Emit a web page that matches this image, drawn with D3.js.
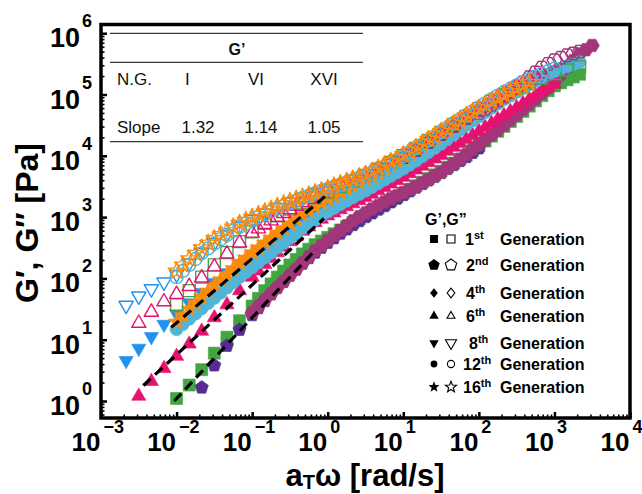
<!DOCTYPE html>
<html>
<head>
<meta charset="utf-8">
<script src="https://cdn.jsdelivr.net/npm/d3@7"></script>
<style>
  html, body { margin: 0; padding: 0; background: #fff; }
  svg { display: block; }
</style>
</head>
<body>
<svg id="chart" width="642" height="494"></svg>
<script>
// Angular frequency grid of the master curve (rad/s), 6 points per decade
const omega = [0.001, 0.00147, 0.00215, 0.00316, 0.00464, 0.00681,
  0.01, 0.0147, 0.0215, 0.0316, 0.0464, 0.0681,
  0.1, 0.147, 0.215, 0.316, 0.464, 0.681,
  1, 1.47, 2.15, 3.16, 4.64, 6.81,
  10, 14.7, 21.5, 31.6, 46.4, 68.1,
  100, 147, 215, 316, 464, 681,
  1000, 1470, 2150, 3160, 4640];
// Overlapping sweeps from neighbouring temperatures, shifted half a step
const omegaShifted = [0.00121, 0.00178, 0.00261, 0.00383, 0.00562, 0.00825,
  0.0121, 0.0178, 0.0261, 0.0383, 0.0562, 0.0825,
  0.121, 0.178, 0.261, 0.383, 0.562, 0.825,
  1.21, 1.78, 2.61, 3.83, 5.62, 8.25,
  12.1, 17.8, 26.1, 38.3, 56.2, 82.5,
  121, 178, 261, 383, 562, 825,
  1210, 1780, 2610];

// Storage modulus G' (Pa) per generation, first point at omega[storageFrom]
const storage1st = [1.10, 1.82, 3.24, 6.03, 11.0, 20.4, 35.5, 63.1, 105, 166, 251, 355, 468, 617, 813, 1070, 1410, 1860, 2450, 3240, 4270, 5620, 7590, 10200, 14500, 20900, 30200, 43700, 64600, 95500, 138000, 174000, 214000];
const storage2nd = [1.66, 3.80, 7.94, 14.5, 25.1, 42.7, 70.8, 112, 174, 263, 380, 537, 741, 1000, 1320, 1740, 2290, 3020, 3980, 5250, 7080, 9550, 13200];
const storage4th = [27.5, 44.7, 70.8, 112, 178, 282, 417, 603, 871, 1170, 1550, 2000, 2510, 3160, 4070, 5370, 7410, 10500, 15100, 21900, 31600, 46800, 69200, 105000, 158000, 282000, 457000, 631000];
const storage6th = [1.20, 2.09, 3.39, 5.37, 8.51, 13.8, 22.9, 37.2, 63.1, 105, 170, 263, 398, 589, 813, 1050, 1320, 1660, 2090, 2690, 3470, 4470, 5890, 7760, 10200, 13800, 18600, 25100, 33900, 45700, 61700, 83200, 112000, 148000];
const storage8th = [4.57, 7.24, 11.2, 17.8, 26.3, 39.8, 58.9, 85.1, 123, 174, 245, 347, 479, 661, 912, 1230, 1620, 2140, 2820, 3720, 4900, 6460, 8510, 11200, 15100, 20400];
const storage12th = [14.8, 21.9, 32.4, 47.9, 70.8, 105, 151, 219, 316, 457, 661, 912, 1230, 1620, 2090, 2690, 3550, 4680, 6170, 8320, 11500, 15800, 22400, 31600, 43700, 60300, 83200, 110000, 145000, 191000, 240000, 288000, 339000];
const storage16th = [19.5, 31.6, 50.1, 77.6, 117, 178, 263, 380, 550, 776, 1100, 1480, 1950, 2510, 3240, 4170, 5250, 7080, 9330, 12600, 16600, 22400, 30200, 40700, 55000, 72400, 93300, 120000, 151000];

// G' (Pa) of the shifted sweeps, first point at omegaShifted[storageShiftedFrom]
const storage1stShifted = [47.3, 81.3, 132, 204, 299, 407, 537, 708, 933, 1230, 1620, 2140, 2820, 3720, 4900, 6530, 8810, 12200, 17400, 25100, 36300, 53100, 78500, 115000, 155000, 193000];
const storage2ndShifted = [32.7, 55.0, 89.1, 140, 214, 316, 452, 631, 861, 1150, 1510, 2000, 2630, 3470, 4570, 6100, 8220, 11200];
const storage4thShifted = [35.1, 56.2, 89.1, 141, 224, 343, 501, 724, 1010, 1350, 1760, 2240, 2820, 3590, 4680, 6310, 8810, 12600, 18200, 26300, 38500, 56900, 85100, 129000, 211000, 359000, 537000];
const storage6thShifted = [133, 211, 324, 484, 692, 923, 1170, 1480, 1860, 2370, 3050, 3940, 5130, 6760, 8910, 11900, 16000, 21600, 29200, 39400, 53100, 71600, 96600, 129000];
const storage8thShifted = [292, 407, 562, 776, 1060, 1410, 1860, 2450, 3240, 4270, 5620, 7410, 9770, 13000, 17600];
const storage12thShifted = [18.0, 26.6, 39.4, 58.2, 86.1, 126, 182, 263, 380, 550, 776, 1060, 1410, 1840, 2370, 3090, 4070, 5370, 7160, 9770, 13500, 18800, 26600, 37200, 51300, 70800, 95500, 126000, 166000, 214000, 263000, 313000];
const storage16thShifted = [24.8, 39.8, 62.4, 95.5, 145, 216, 316, 457, 653, 923, 1270, 1700, 2210, 2850, 3670, 4680, 6100, 8130, 10800, 14500, 19300, 26000, 35100, 47300, 63100, 82200, 106000, 135000];

// Loss modulus G'' (Pa) per generation, first point at omega[lossFrom]
const loss1st = [37.2, 63.1, 105, 166, 263, 398, 575, 794, 1050, 1350, 1700, 2090, 2570, 3160, 3890, 4790, 6030, 7760, 10000, 13200, 17800, 24000, 32400, 43700, 58900, 77600, 100000, 126000, 155000, 186000, 219000, 251000, 282000];
const loss2nd = [9330, 12300, 16600, 22400, 30200, 40700, 55000];
const loss4th = [50100, 67600, 93300, 132000, 191000, 275000, 363000, 437000, 501000];
const loss6th = [18.6, 28.2, 41.7, 55.0, 74.1, 102, 155, 251, 380, 550, 759, 1000, 1320, 1740, 2240, 2820, 3470, 4170, 5010, 6170, 7940, 10200, 13500, 18200, 24500, 33100, 44700, 60300, 79400, 105000, 135000, 174000, 219000];
const loss8th = [36.3, 51.3, 67.6, 87.1, 117, 178, 263, 380, 525, 708, 912, 1150, 1410, 1740, 2090, 2510, 2950, 3470, 4070, 4900, 6030, 7590, 9770];
const loss12th = [105, 166, 257, 372, 513, 692, 891, 1120, 1380, 1700, 2040, 2450, 2880, 3390, 3980, 4790, 5890, 7590, 9770, 13200, 17800, 24500, 33900, 45700, 61700, 83200, 110000, 141000, 178000, 219000, 263000];
const loss16th = [132, 209, 316, 447, 603, 794, 1000, 1230, 1510, 1820, 2140, 2510, 2950, 3550, 4170, 5010, 6310, 8130, 10500, 13800, 18600, 25100, 33900, 45700, 60300, 79400, 100000, 126000, 158000];

// G'' (Pa) of the shifted sweeps, first point at omegaShifted[lossShiftedFrom]
const loss4thShifted = [58200, 79400, 111000, 158000, 229000, 316000, 398000, 468000];
const loss6thShifted = [646, 871, 1150, 1510, 1970, 2510, 3130, 3800, 4570, 5560, 7000, 9020, 11700, 15700, 21100, 28500, 38500, 51900, 69200, 91200, 119000, 153000, 195000];
const loss12thShifted = [132, 207, 309, 437, 596, 785, 1000, 1240, 1530, 1860, 2240, 2660, 3130, 3670, 4370, 5310, 6680, 8610, 11400, 15300, 20900, 28800, 39400, 53100, 71600, 95500, 124000, 158000, 197000, 240000];
const loss16thShifted = [166, 257, 376, 519, 692, 891, 1110, 1360, 1660, 1970, 2320, 2720, 3240, 3850, 4570, 5620, 7160, 9230, 12000, 16000, 21600, 29200, 39400, 52500, 69200, 89100, 112000, 141000];

const generations = ["1st", "2nd", "4th", "6th", "8th", "12th", "16th"];
const storageFrom = [6, 8, 12, 3, 2, 6, 6];
const storageShiftedFrom = [12, 12, 12, 12, 12, 6, 6];
const lossFrom = [6, 24, 30, 3, 2, 6, 6];
const lossShiftedFrom = [0, 0, 30, 12, 0, 6, 6];

// Power-law fits of G' in the terminal zone
const fitGenerations = ["I", "VI", "XVI"];
const fitSlopes = [1.32, 1.14, 1.05];
const fitOmegaStart = [0.00933, 0.00363, 0.00851];
const fitOmegaEnd = [0.708, 0.891, 0.933];
const fitGStart = [1.0, 1.79, 15.9];

// Axis ticks
const xTickExponents = [-3, -2, -1, 0, 1, 2, 3, 4];
const yTickExponents = [0, 1, 2, 3, 4, 5, 6];

// ---------------------------------------------------------------
const storageData = [storage1st, storage2nd, storage4th, storage6th, storage8th, storage12th, storage16th];
const storageShiftedData = [storage1stShifted, storage2ndShifted, storage4thShifted, storage6thShifted, storage8thShifted, storage12thShifted, storage16thShifted];
const lossData = [loss1st, loss2nd, loss4th, loss6th, loss8th, loss12th, loss16th];
const lossShiftedData = [[], [], loss4thShifted, loss6thShifted, [], loss12thShifted, loss16thShifted];

const colors = ["#42a542", "#552c90", "#a3367b", "#e5136f", "#1e92f2", "#50b5d9", "#fb8b0a"];
const plotShapes = ["square", "pentagon", "hexagon", "triUp", "triDown", "circle", "star"];
const legendShapes = ["square", "pentagon", "diamond", "triUp", "triDown", "circle", "star"];
const plotRadius = { square: 6, pentagon: 7, hexagon: 7.2, triUp: 8.2, triDown: 8.2, circle: 6.5, star: 8.8 };

const svg = d3.select("#chart");
const plot = { left: 101, right: 630, top: 24.5, bottom: 418 };
const FONT = "'Liberation Sans', Arial, Helvetica, sans-serif";

const x = d3.scaleLog().domain([1e-3, 1e4]).range([plot.left, plot.right]);
const y = d3.scaleLog().domain([0.528, 1.387e6]).range([plot.bottom, plot.top]);

function polygon(n, r, startDeg, sx = 1) {
  const pts = [];
  for (let i = 0; i < n; i++) {
    const a = (startDeg + i * 360 / n) * Math.PI / 180;
    pts.push([sx * r * Math.cos(a), r * Math.sin(a)]);
  }
  return "M" + pts.map(p => p[0].toFixed(2) + "," + p[1].toFixed(2)).join("L") + "Z";
}
function shapePath(shape, r) {
  switch (shape) {
    case "square": return `M${-r},${-r}H${r}V${r}H${-r}Z`;
    case "pentagon": return polygon(5, r, -90);
    case "hexagon": return polygon(6, r, 0);
    case "diamond": return polygon(4, r, -90, 0.8);
    case "triUp": return polygon(3, r, -90);
    case "triDown": return polygon(3, r, 90);
    case "circle": return `M${r},0A${r},${r} 0 1,1 ${-r},0A${r},${r} 0 1,1 ${r},0Z`;
    case "star": {
      const pts = [];
      for (let i = 0; i < 10; i++) {
        const a = -Math.PI / 2 + i * Math.PI / 5;
        const rr = i % 2 ? r * 0.42 : r;
        pts.push([rr * Math.cos(a), rr * Math.sin(a)]);
      }
      return "M" + pts.map(p => p[0].toFixed(2) + "," + p[1].toFixed(2)).join("L") + "Z";
    }
  }
}

// ---- data markers: filled G' first, then open G''
const marks = svg.append("g");
function drawSeries(values, from, shifted, shiftedFrom, shape, color, open) {
  const pts = values.map((g, i) => ({ w: omega[from + i], g }))
    .concat(shifted.map((g, i) => ({ w: omegaShifted[shiftedFrom + i], g })))
    .sort((a, b) => a.w - b.w);
  marks.append("g").selectAll("path").data(pts).join("path")
    .attr("transform", d => `translate(${x(d.w).toFixed(2)},${y(d.g).toFixed(2)})`)
    .attr("d", shapePath(shape, plotRadius[shape]))
    .attr("fill", open ? "none" : color)
    .attr("stroke", color)
    .attr("stroke-width", open ? 1.4 : 0.6)
    .attr("stroke-linejoin", "round");
}
storageData.forEach((vals, i) =>
  drawSeries(vals, storageFrom[i], storageShiftedData[i], storageShiftedFrom[i], plotShapes[i], colors[i], false));
lossData.forEach((vals, i) =>
  drawSeries(vals, lossFrom[i], lossShiftedData[i], lossShiftedFrom[i], plotShapes[i], colors[i], true));

// ---- power-law fit lines
fitSlopes.forEach((s, i) => {
  const w0 = fitOmegaStart[i], w1 = fitOmegaEnd[i], g0 = fitGStart[i];
  const g1 = g0 * Math.pow(w1 / w0, s);
  svg.append("line")
    .attr("x1", x(w0)).attr("y1", y(g0))
    .attr("x2", x(w1)).attr("y2", y(g1))
    .attr("stroke", "#000").attr("stroke-width", 3.2)
    .attr("stroke-dasharray", "10,6");
});

// ---- axes (ticks point inward)
const xMajor = xTickExponents.map(e => Math.pow(10, e));
const yMajor = yTickExponents.map(e => Math.pow(10, e));
const xMinor = [], yMinor = [];
for (let e = -3; e < 4; e++) for (let m = 2; m <= 9; m++) xMinor.push(m * Math.pow(10, e));
for (let e = -1; e < 7; e++) for (let m = 2; m <= 9; m++) {
  const v = m * Math.pow(10, e);
  if (v > y.domain()[0] && v < y.domain()[1]) yMinor.push(v);
}

function styleAxis(g, width) {
  g.select(".domain").remove();
  g.selectAll(".tick line").attr("stroke", "#000").attr("stroke-width", width);
  g.selectAll(".tick text").remove();
}
svg.append("g").attr("transform", `translate(0,${plot.bottom})`)
  .call(d3.axisBottom(x).tickValues(xMajor).tickSize(-6).tickFormat(""))
  .call(g => styleAxis(g, 2.5));
svg.append("g").attr("transform", `translate(0,${plot.bottom})`)
  .call(d3.axisBottom(x).tickValues(xMinor).tickSize(-3.5).tickFormat(""))
  .call(g => styleAxis(g, 1.6));
svg.append("g").attr("transform", `translate(${plot.left},0)`)
  .call(d3.axisLeft(y).tickValues(yMajor).tickSize(-6).tickFormat(""))
  .call(g => styleAxis(g, 2.5));
svg.append("g").attr("transform", `translate(${plot.left},0)`)
  .call(d3.axisLeft(y).tickValues(yMinor).tickSize(-3.5).tickFormat(""))
  .call(g => styleAxis(g, 1.6));

// frame
svg.append("rect")
  .attr("x", plot.left).attr("y", plot.top)
  .attr("width", plot.right - plot.left).attr("height", plot.bottom - plot.top)
  .attr("fill", "none").attr("stroke", "#000").attr("stroke-width", 3.5);

// tick labels: 10 with superscript exponent
const expText = e => (e < 0 ? "\u2212" + (-e) : String(e));
xTickExponents.forEach((e, i) => {
  const px = x(xMajor[i]);
  svg.append("text").attr("x", px - 0.5).attr("y", 451)
    .attr("text-anchor", "end").attr("font-family", FONT).attr("font-weight", "bold")
    .attr("font-size", 26).text("10");
  svg.append("text").attr("x", px + 2.5).attr("y", 433)
    .attr("font-family", FONT).attr("font-weight", "bold")
    .attr("font-size", 18).text(expText(e));
});
yTickExponents.forEach((e, i) => {
  const py = y(yMajor[i]);
  svg.append("text").attr("x", 80).attr("y", py + 14)
    .attr("text-anchor", "end").attr("font-family", FONT).attr("font-weight", "bold")
    .attr("font-size", 27).text("10");
  svg.append("text").attr("x", 82).attr("y", py - 6)
    .attr("font-family", FONT).attr("font-weight", "bold")
    .attr("font-size", 18).text(expText(e));
});

// axis titles
const xTitle = svg.append("text").attr("x", 365).attr("y", 485.5)
  .attr("text-anchor", "middle").attr("font-family", FONT).attr("font-weight", "bold")
  .attr("font-size", 31);
xTitle.append("tspan").text("a");
xTitle.append("tspan").attr("font-size", 20).attr("dy", 3.5).text("T");
xTitle.append("tspan").attr("dy", -3.5).text("\u03c9 [rad/s]");

svg.append("text")
  .attr("transform", "translate(38,223) rotate(-90)")
  .attr("text-anchor", "middle").attr("font-family", FONT).attr("font-weight", "bold")
  .attr("font-size", 32).text("G\u2032, G\u2033 [Pa]");

// ---- slope table
const table = svg.append("g").attr("font-family", FONT).attr("fill", "#111");
[33.3, 62.3, 141.7].forEach(ly => {
  table.append("line").attr("x1", 110).attr("x2", 363).attr("y1", ly).attr("y2", ly)
    .attr("stroke", "#3a3a3a").attr("stroke-width", 1.3);
});
table.append("text").attr("x", 237).attr("y", 55).attr("text-anchor", "middle")
  .attr("font-weight", "bold").attr("font-size", 16).text("G\u2019");
table.append("text").attr("x", 117).attr("y", 85).attr("font-size", 17).text("N.G.");
table.append("text").attr("x", 117).attr("y", 133).attr("font-size", 17).text("Slope");
const colX = [198, 256, 324];
fitGenerations.forEach((g, i) => {
  table.append("text").attr("x", colX[i] - (i === 0 ? 13 : 0)).attr("y", 85)
    .attr("text-anchor", i === 0 ? "start" : "middle").attr("font-size", 17).text(g);
  table.append("text").attr("x", colX[i] + (i === 1 ? 5 : 0)).attr("y", 133)
    .attr("text-anchor", "middle").attr("font-size", 17).text(fitSlopes[i].toFixed(2));
});

// ---- legend
const legend = svg.append("g").attr("font-family", FONT).attr("font-weight", "bold").attr("fill", "#000");
legend.append("text").attr("x", 425).attr("y", 225).attr("font-size", 16).text("G\u2019,G\u201d");
const rowY = [239, 265, 293, 316, 343, 364, 387];
const legendR = {
  square: [4, 4], pentagon: [6, 6], diamond: [4.8, 4.8], triUp: [5.4, 4.6],
  triDown: [5.4, 6.4], circle: [3.4, 3.6], star: [5.8, 5.8]
};
const ordinalX = [465, 466, 466, 466, 469, 463, 463];
generations.forEach((gname, i) => {
  const cy = rowY[i];
  const shape = legendShapes[i];
  const [rf, ro] = legendR[shape];
  legend.append("path").attr("transform", `translate(434,${cy})`)
    .attr("d", shapePath(shape, rf)).attr("fill", "#000");
  legend.append("path").attr("transform", `translate(451,${cy})`)
    .attr("d", shapePath(shape, ro)).attr("fill", "none").attr("stroke", "#000").attr("stroke-width", 1.1);
  const m = gname.match(/^(\d+)(\D+)$/);
  const t = legend.append("text").attr("x", ordinalX[i]).attr("y", cy + 6).attr("font-size", 16);
  t.append("tspan").text(m[1]);
  t.append("tspan").attr("font-size", 11).attr("dy", -6).text(m[2]);
  legend.append("text").attr("x", 500).attr("y", cy + 6).attr("font-size", 16).text("Generation");
});
</script>
</body>
</html>
